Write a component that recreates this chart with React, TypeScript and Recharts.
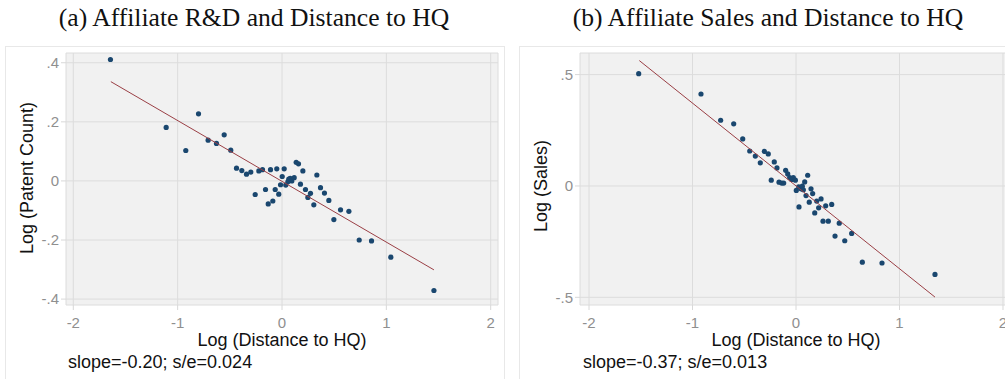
import { ScatterChart, Scatter, XAxis, YAxis, CartesianGrid } from 'recharts';

// panel (a): log distance vs log patent count
const rdDist = [
  -1.644, -1.11, -0.922, -0.8, -0.708, -0.628, -0.554, -0.491, -0.436, -0.385,
  -0.34, -0.299, -0.257, -0.222, -0.187, -0.158, -0.132, -0.11, -0.088, -0.065,
  -0.05, -0.031, -0.014, 0.002, 0.021, 0.036, 0.056, 0.065, 0.079, 0.094,
  0.117, 0.136, 0.158, 0.177, 0.2, 0.225, 0.248, 0.273, 0.305, 0.334,
  0.369, 0.407, 0.449, 0.497, 0.561, 0.641, 0.74, 0.858, 1.043, 1.456,
];
const rdPatents = [
  0.411, 0.181, 0.103, 0.227, 0.138, 0.127, 0.156, 0.104, 0.043, 0.035,
  0.023, 0.03, -0.046, 0.034, 0.038, -0.029, -0.078, 0.038, -0.068, -0.029,
  0.041, -0.045, -0.013, 0.015, 0.041, -0.014, -0.003, 0.006, 0.009, 0.0,
  0.011, 0.063, 0.058, -0.011, 0.034, -0.029, -0.056, -0.042, -0.081, 0.02,
  -0.023, -0.041, -0.066, -0.131, -0.098, -0.103, -0.2, -0.203, -0.258, -0.371,
];
const rdFitX = [-1.64, 1.456];
const rdFitY = [0.336, -0.301];

// panel (b): log distance vs log sales
const salesDist = [
  -1.52, -0.918, -0.728, -0.602, -0.515, -0.447, -0.393, -0.345, -0.306, -0.268,
  -0.239, -0.21, -0.184, -0.164, -0.138, -0.119, -0.1, -0.08, -0.061, -0.042,
  -0.026, -0.006, 0.003, 0.026, 0.029, 0.048, 0.061, 0.071, 0.084, 0.097,
  0.113, 0.128, 0.145, 0.161, 0.181, 0.2, 0.219, 0.242, 0.261, 0.287,
  0.312, 0.345, 0.377, 0.418, 0.471, 0.538, 0.641, 0.831, 1.343,
];
const salesVal = [
  0.504, 0.413, 0.295, 0.279, 0.211, 0.157, 0.134, 0.104, 0.155, 0.144,
  0.026, 0.108, 0.081, 0.017, 0.013, 0.013, 0.07, 0.054, 0.038, 0.029,
  0.038, 0.026, -0.02, -0.004, -0.094, -0.013, -0.001, -0.017, 0.018, -0.043,
  0.048, -0.073, -0.013, -0.034, -0.121, -0.068, -0.098, -0.058, -0.158, -0.089,
  -0.158, -0.083, -0.225, -0.167, -0.246, -0.213, -0.342, -0.346, -0.397,
];
const salesFitX = [-1.514, 1.343];
const salesFitY = [0.563, -0.499];

const xTicks = [-2, -1, 0, 1, 2];
const rdTicks = [-0.4, -0.2, 0, 0.2, 0.4];
const salesTicks = [-0.5, 0, 0.5];

const pts = (xs: number[], ys: number[]) => xs.map((x, i) => ({ x, y: ys[i] }));

const SANS = '"Liberation Sans", Arial, sans-serif';
const SERIF = '"Liberation Serif", "Times New Roman", serif';
const NAVY = '#1a476f';
const MAROON = '#9a3f45';

const fmtY = (v: number) => {
  if (v === 0) return '0';
  return (v < 0 ? '-' : '') + String(Math.abs(v)).replace(/^0/, '');
};

const Dot = (p: any) => <circle cx={p.cx} cy={p.cy} r={2.6} fill={NAVY} />;
const NoDot = () => <g />;

function Panel(props: {
  left: number;
  xs: number[];
  ys: number[];
  fx: number[];
  fy: number[];
  yDomain: [number, number];
  yTicks: number[];
  xDomain: [number, number];
  marginRight: number;
  marginLeft: number;
}) {
  return (
    <div style={{ position: 'absolute', left: props.left, top: 0 }}>
      <ScatterChart
        width={505}
        height={379}
        margin={{ top: 53, right: props.marginRight, left: props.marginLeft, bottom: 44 }}
      >
        <CartesianGrid stroke="#dcdcdc" fill="#f1f1f1" fillOpacity={1} />
        <XAxis
          type="number"
          dataKey="x"
          domain={props.xDomain}
          ticks={xTicks}
          interval={0}
          allowDataOverflow
          axisLine={false}
          tickLine={{ stroke: '#d8d8d8' }}
          tickSize={5}
          tickMargin={7}
          height={30}
          tick={{ fill: '#8f8f8f', fontSize: 15, fontFamily: SANS }}
        />
        <YAxis
          type="number"
          dataKey="y"
          domain={props.yDomain}
          ticks={props.yTicks}
          interval={0}
          allowDataOverflow
          axisLine={false}
          tickLine={{ stroke: '#d8d8d8' }}
          tickSize={5}
          tickMargin={2}
          width={60}
          tickFormatter={fmtY}
          tick={{ fill: '#8f8f8f', fontSize: 15, fontFamily: SANS }}
        />
        <Scatter data={pts(props.xs, props.ys)} shape={Dot} isAnimationActive={false} />
        <Scatter
          data={pts(props.fx, props.fy)}
          shape={NoDot}
          line={{ stroke: MAROON, strokeWidth: 1 }}
          isAnimationActive={false}
        />
      </ScatterChart>
    </div>
  );
}

const abs = (l: number, t: number, w: number, h: number): React.CSSProperties => ({
  position: 'absolute',
  left: l,
  top: t,
  width: w,
  height: h,
  lineHeight: h + 'px',
  whiteSpace: 'nowrap',
});

export default function App() {
  return (
    <div
      style={{
        position: 'absolute',
        left: 0,
        top: 0,
        width: 1005,
        height: 379,
        overflow: 'hidden',
        background: '#fff',
        fontFamily: SANS,
        color: '#111',
      }}
    >
      {/* panel frames */}
      <div style={{ position: 'absolute', left: 5, top: 46, width: 498, height: 340, border: '1px solid #e8e8e8' }} />
      <div style={{ position: 'absolute', left: 519, top: 46, width: 500, height: 340, border: '1px solid #e8e8e8' }} />

      <div style={{ ...abs(4, 0, 500, 36), textAlign: 'center', fontFamily: SERIF, fontSize: 25.6 }}>
        (a) Affiliate R&amp;D and Distance to HQ
      </div>
      <div style={{ ...abs(518, 0, 500, 36), textAlign: 'center', fontFamily: SERIF, fontSize: 25.6 }}>
        (b) Affiliate Sales and Distance to HQ
      </div>

      <Panel
        left={0}
        xs={rdDist}
        ys={rdPatents}
        fx={rdFitX}
        fy={rdFitY}
        xDomain={[-2.07, 2.07]}
        yDomain={[-0.42, 0.433]}
        yTicks={rdTicks}
        marginLeft={6}
        marginRight={7}
      />
      <Panel
        left={515}
        xs={salesDist}
        ys={salesVal}
        fx={salesFitX}
        fy={salesFitY}
        xDomain={[-2.087, 2.087]}
        yDomain={[-0.5345, 0.597]}
        yTicks={salesTicks}
        marginLeft={5}
        marginRight={8}
      />

      <div style={{ ...abs(27 - 100, 178 - 12, 200, 24), textAlign: 'center', fontSize: 18, transform: 'rotate(-90deg)' }}>
        Log (Patent Count)
      </div>
      <div style={{ ...abs(541 - 100, 186 - 12, 200, 24), textAlign: 'center', fontSize: 18, transform: 'rotate(-90deg)' }}>
        Log (Sales)
      </div>

      <div style={{ ...abs(282 - 150, 340 - 12, 300, 24), textAlign: 'center', fontSize: 18 }}>
        Log (Distance to HQ)
      </div>
      <div style={{ ...abs(796 - 150, 340 - 12, 300, 24), textAlign: 'center', fontSize: 18 }}>
        Log (Distance to HQ)
      </div>

      <div style={{ ...abs(68, 362 - 12, 300, 24), fontSize: 18 }}>slope=-0.20; s/e=0.024</div>
      <div style={{ ...abs(583, 362 - 12, 300, 24), fontSize: 18 }}>slope=-0.37; s/e=0.013</div>
    </div>
  );
}
